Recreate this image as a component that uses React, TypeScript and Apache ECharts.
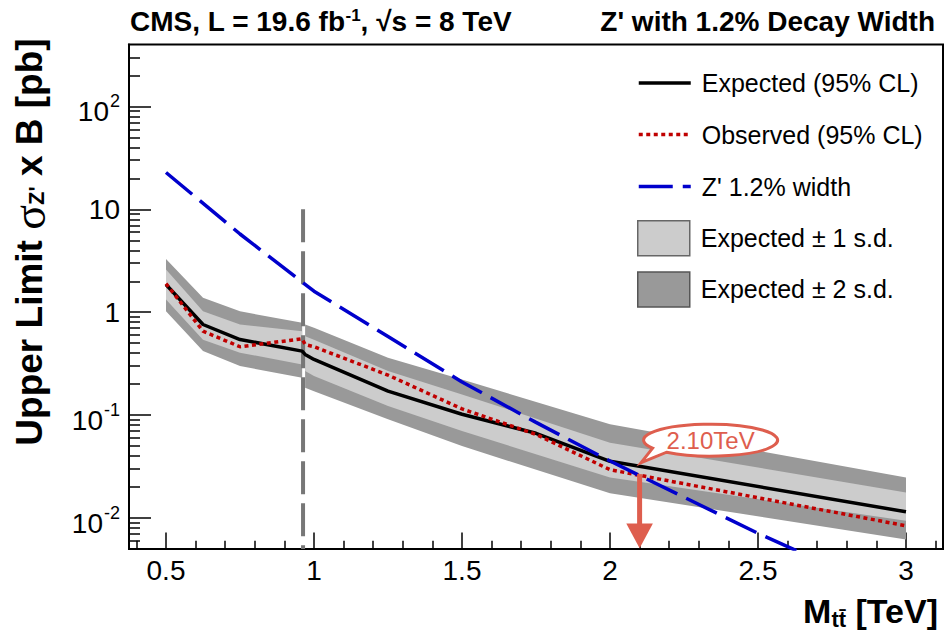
import React, { useEffect, useRef } from 'react';
import * as echarts from 'echarts';

const FONT = '"Liberation Sans", Arial, Helvetica, sans-serif';

// Expected / observed 95% CL limits (pb) vs M_tt (TeV)
const massCurve = [0.5, 0.625, 0.75, 0.96, 0.97, 1.0, 1.25, 1.5, 1.75, 2.0, 3.0];
const expected = [1.86, 0.76, 0.543, 0.419, 0.389, 0.348, 0.171, 0.102, 0.0666, 0.0356, 0.0115];
const observed = [1.9, 0.654, 0.462, 0.552, 0.486, 0.462, 0.245, 0.115, 0.065, 0.0295, 0.0084];

// Bands, low-mass segment
const bandMassLow = [0.5, 0.625, 0.75, 0.96];
const lo2Low = [1.02, 0.42, 0.3, 0.231];
const lo1Low = [1.33, 0.54, 0.404, 0.311];
const hi1Low = [2.6, 1.02, 0.76, 0.655];
const hi2Low = [3.3, 1.38, 1.02, 0.79];

// Bands, high-mass segment
const bandMassHigh = [0.97, 1.0, 1.25, 1.5, 2.0, 3.0];
const lo2High = [0.185, 0.171, 0.091, 0.05, 0.0174, 0.0062];
const lo1High = [0.268, 0.24, 0.123, 0.07, 0.0248, 0.0094];
const hi1High = [0.585, 0.54, 0.268, 0.159, 0.054, 0.0177];
const hi2High = [0.76, 0.706, 0.361, 0.222, 0.0815, 0.0248];

// Z' 1.2% width theory cross section
const zMass = [0.5, 0.75, 1.0, 1.25, 1.5, 1.75, 2.0, 2.5, 3.0];
const zXsec = [22.8, 5.76, 1.6, 0.58, 0.21, 0.085, 0.0358, 0.0071, 0.0016];

const thresholdMass = 0.963;
const thresholdTop = 10;
const limitMass = 2.1;
const limitArrowTop = 0.0267;
const limitLabel = '2.10TeV';

const xMin = 0.375;
const xMax = 3.125;
const yMin = 0.005;
const yMax = 400;

const xMajorTicks = [0.5, 1, 1.5, 2, 2.5, 3];
const xMinorTicks = [0.4, 0.6, 0.7, 0.8, 0.9, 1.1, 1.2, 1.3, 1.4, 1.6, 1.7, 1.8, 1.9, 2.1, 2.2, 2.3, 2.4, 2.6, 2.7, 2.8, 2.9, 3.1];
const yMajorTicks = [0.01, 0.1, 1, 10, 100];
const yTickLabels = ['{b|10}{s|-2}', '{b|10}{s|-1}', '{n|1}', '{n|10}', '{b|10}{s|2}'];
const yMinorTicks = [
  0.006, 0.007, 0.008, 0.009,
  0.02, 0.03, 0.04, 0.05, 0.06, 0.07, 0.08, 0.09,
  0.2, 0.3, 0.4, 0.5, 0.6, 0.7, 0.8, 0.9,
  2, 3, 4, 5, 6, 7, 8, 9,
  20, 30, 40, 50, 60, 70, 80, 90,
  200, 300,
];

const legendNames = ['Expected (95% CL)', 'Observed (95% CL)', "Z' 1.2% width", 'Expected ± 1 s.d.', 'Expected ± 2 s.d.'];

const BUBBLE_D = 'M -44 12.07 A 67 16 0 1 0 -58 8.01 L -69.5 22.5 Z';
echarts.graphic.registerShape('bubble', echarts.graphic.extendPath(BUBBLE_D, {}));

const ANNOT = '#de5e4e';
const C_EXP = '#000000';
const C_OBS = '#c00000';
const C_Z = '#0000cc';
const C_1SD = '#cccccc';
const C_2SD = '#999999';
const DASH_OBS = [4, 3.5];
const DASH_Z = [34, 10];

function bandSeries(name: string, color: string, lows: number[][], highs: number[][]) {
  return {
    type: 'custom',
    name,
    coordinateSystem: 'cartesian2d',
    xAxisIndex: 0,
    yAxisIndex: 0,
    clip: true,
    silent: true,
    itemStyle: { color },
    data: [
      [bandMassLow[0], highs[0][0], 0],
      [bandMassHigh[0], highs[1][0], 1],
    ],
    renderItem: (params: any, api: any) => {
      const seg = api.value(2);
      const mass = seg === 0 ? bandMassLow : bandMassHigh;
      const lo = lows[seg];
      const hi = highs[seg];
      const pts: number[][] = [];
      for (let i = 0; i < mass.length; i++) pts.push(api.coord([mass[i], hi[i]]));
      for (let i = mass.length - 1; i >= 0; i--) pts.push(api.coord([mass[i], lo[i]]));
      return { type: 'polygon', shape: { points: pts }, style: { fill: color, stroke: null } };
    },
  };
}

export default function App() {
  const ref = useRef<HTMLDivElement>(null);

  useEffect(() => {
    if (!ref.current) return;
    const chart = echarts.init(ref.current, null, { renderer: 'svg' });

    const axisLabelStyle = { color: '#000', fontFamily: FONT, fontSize: 28 };

    const legendItems: any[] = [
      { name: legendNames[0], itemStyle: { opacity: 0 }, lineStyle: { color: C_EXP, width: 3.5, type: 'solid' } },
      { name: legendNames[1], itemStyle: { opacity: 0 }, lineStyle: { color: C_OBS, width: 3.5, type: DASH_OBS } },
      { name: legendNames[2], itemStyle: { opacity: 0 }, lineStyle: { color: C_Z, width: 3.5, type: DASH_Z } },
      { name: legendNames[3], icon: 'rect', itemStyle: { color: C_1SD, borderColor: '#666', borderWidth: 1.5 } },
      { name: legendNames[4], icon: 'rect', itemStyle: { color: C_2SD, borderColor: '#555', borderWidth: 1.5 } },
    ];
    const legendCenters = [83, 134.5, 186.5, 237.5, 288.7];

    const option: any = {
      animation: false,
      backgroundColor: '#fff',
      grid: {
        left: 129,
        right: 8,
        top: 44.5,
        bottom: 91,
        show: true,
        borderColor: '#000',
        borderWidth: 2,
        backgroundColor: 'transparent',
      },
      legend: legendItems.map((item, i) => ({
        show: true,
        orient: 'vertical',
        left: 637,
        top: legendCenters[i] - 17.5,
        padding: 0,
        itemWidth: 52,
        itemHeight: 35,
        selectedMode: false,
        textStyle: { fontSize: 25, color: '#000', fontFamily: FONT, lineHeight: 35, padding: [0, 0, 0, 6] },
        data: [item],
      })),
      xAxis: [
        {
          type: 'value',
          position: 'bottom',
          min: xMin,
          max: xMax,
          axisLine: { show: true, onZero: false, lineStyle: { color: '#000', width: 2 } },
          axisTick: { show: true, inside: true, length: 16.5, customValues: xMajorTicks, lineStyle: { color: '#000', width: 1.5 } },
          axisLabel: {
            show: true,
            customValues: xMajorTicks,
            margin: 7,
            ...axisLabelStyle,
            formatter: (v: number) => String(Math.round(v * 10) / 10),
          },
          splitLine: { show: false },
        },
        {
          type: 'value',
          position: 'bottom',
          min: xMin,
          max: xMax,
          axisLine: { show: false },
          axisTick: { show: true, inside: true, length: 8.3, customValues: xMinorTicks, lineStyle: { color: '#000', width: 1.5 } },
          axisLabel: { show: false },
          splitLine: { show: false },
        },
      ],
      yAxis: [
        {
          type: 'log',
          logBase: 10,
          position: 'left',
          min: yMin,
          max: yMax,
          axisLine: { show: true, onZero: false, lineStyle: { color: '#000', width: 2 } },
          axisTick: { show: true, inside: true, length: 22, customValues: yMajorTicks, lineStyle: { color: '#000', width: 1.5 } },
          axisLabel: {
            show: true,
            customValues: yMajorTicks,
            margin: 9,
            color: '#000',
            fontFamily: FONT,
            formatter: (v: number) => {
              const e = Math.round(Math.log10(v));
              let best = 0;
              for (let i = 0; i < yMajorTicks.length; i++) {
                if (Math.round(Math.log10(yMajorTicks[i])) === e) best = i;
              }
              return yTickLabels[best];
            },
            rich: {
              n: { fontSize: 28, fontFamily: FONT, color: '#000', lineHeight: 28 },
              b: { fontSize: 28, fontFamily: FONT, color: '#000', lineHeight: 28, padding: [10, 0, 0, 0] },
              s: { fontSize: 18, fontFamily: FONT, color: '#000', lineHeight: 8, verticalAlign: 'top', padding: [0, 0, 0, 1] },
            },
          },
          splitLine: { show: false },
        },
        {
          type: 'log',
          logBase: 10,
          position: 'left',
          min: yMin,
          max: yMax,
          axisLine: { show: false },
          axisTick: { show: true, inside: true, length: 11, customValues: yMinorTicks, lineStyle: { color: '#000', width: 1.5 } },
          axisLabel: { show: false },
          splitLine: { show: false },
        },
      ],
      series: [
        bandSeries(legendNames[4], C_2SD, [lo2Low, lo2High], [hi2Low, hi2High]),
        bandSeries(legendNames[3], C_1SD, [lo1Low, lo1High], [hi1Low, hi1High]),
        {
          type: 'line',
          name: 'threshold',
          xAxisIndex: 0,
          yAxisIndex: 0,
          symbol: 'none',
          silent: true,
          data: [[thresholdMass, thresholdTop], [thresholdMass, yMin]],
          lineStyle: { color: '#777777', width: 4, type: [33, 9] },
        },
        {
          type: 'line',
          name: legendNames[0],
          xAxisIndex: 0,
          yAxisIndex: 0,
          symbol: 'none',
          silent: true,
          data: massCurve.map((m, i) => [m, expected[i]]),
          lineStyle: { color: C_EXP, width: 3.5 },
          itemStyle: { color: C_EXP },
        },
        {
          type: 'line',
          name: legendNames[1],
          xAxisIndex: 0,
          yAxisIndex: 0,
          symbol: 'none',
          silent: true,
          data: massCurve.map((m, i) => [m, observed[i]]),
          lineStyle: { color: C_OBS, width: 3.5, type: DASH_OBS },
          itemStyle: { color: C_OBS },
        },
        {
          type: 'line',
          name: legendNames[2],
          xAxisIndex: 0,
          yAxisIndex: 0,
          symbol: 'none',
          silent: true,
          clip: true,
          data: zMass.map((m, i) => [m, zXsec[i]]),
          lineStyle: { color: C_Z, width: 3.5, type: DASH_Z },
          itemStyle: { color: C_Z },
        },
      ],
    };

    chart.setOption(option);

    const top = chart.convertToPixel({ xAxisIndex: 0, yAxisIndex: 0 }, [limitMass, limitArrowTop]) as number[];
    const bot = chart.convertToPixel({ xAxisIndex: 0, yAxisIndex: 0 }, [limitMass, yMin]) as number[];
    const ax = top[0];
    const headH = 25.5;
    const headW = 13.3;

    chart.setOption({
      graphic: [
        {
          type: 'text',
          x: 130,
          y: 21,
          style: {
            text: '{t|CMS, L = 19.6 fb}{u|-1}{t|, √s = 8 TeV}',
            verticalAlign: 'middle',
            align: 'left',
            rich: {
              t: { fontSize: 28, fontWeight: 'bold', fontFamily: FONT, fill: '#000', lineHeight: 28 },
              u: { fontSize: 17, fontWeight: 'bold', fontFamily: FONT, fill: '#000', lineHeight: 17, verticalAlign: 'top' },
            },
          },
        },
        {
          type: 'text',
          x: 935,
          y: 21,
          style: {
            text: "Z' with 1.2% Decay Width",
            align: 'right',
            verticalAlign: 'middle',
            fontSize: 28,
            fontWeight: 'bold',
            fontFamily: FONT,
            fill: '#000',
          },
        },
        {
          type: 'text',
          x: 29,
          y: 242,
          rotation: Math.PI / 2,
          style: {
            text: "{b|Upper Limit }{g|σ}{z|Z'}{b| x B [pb]}",
            align: 'center',
            verticalAlign: 'middle',
            rich: {
              b: { fontSize: 37, fontWeight: 'bold', fontFamily: FONT, fill: '#000', lineHeight: 37 },
              g: { fontSize: 46, fontFamily: '"Liberation Serif", "DejaVu Serif", serif', fill: '#000', lineHeight: 37 },
              z: { fontSize: 22, fontWeight: 'bold', fontFamily: FONT, fill: '#000', lineHeight: 22, verticalAlign: 'bottom' },
            },
          },
        },
        {
          type: 'text',
          x: 938,
          y: 596,
          style: {
            text: '{m|M}{s|tt\u0304}{m| [TeV]}',
            align: 'right',
            verticalAlign: 'top',
            rich: {
              m: { fontSize: 34, fontWeight: 'bold', fontFamily: FONT, fill: '#000', lineHeight: 34, padding: [0, 0, 5, 0] },
              s: { fontSize: 22, fontWeight: 'bold', fontFamily: FONT, fill: '#000', lineHeight: 22, verticalAlign: 'bottom' },
            },
          },
        },
        {
          type: 'line',
          shape: { x1: ax, y1: top[1], x2: ax, y2: bot[1] - headH + 1 },
          style: { stroke: ANNOT, lineWidth: 5 },
          z: 100,
        },
        {
          type: 'polygon',
          shape: { points: [[ax - headW, bot[1] - headH], [ax + headW, bot[1] - headH], [ax, bot[1] - 0.7]] },
          style: { fill: ANNOT },
          z: 100,
        },
        {
          type: 'bubble',
          x: ax + 71,
          y: top[1] - 34,
          style: { fill: '#fff', stroke: ANNOT, lineWidth: 3 },
          z: 100,
        },
        {
          type: 'text',
          x: ax + 71,
          y: top[1] - 34,
          z: 101,
          style: {
            text: limitLabel,
            align: 'center',
            verticalAlign: 'middle',
            fontSize: 24,
            fontFamily: FONT,
            fill: ANNOT,
          },
        },
      ],
    });

    return () => {
      chart.dispose();
    };
  }, []);

  return (
    <div
      ref={ref}
      style={{ position: 'fixed', left: 0, top: 0, width: 951, height: 640, background: '#fff' }}
    />
  );
}
